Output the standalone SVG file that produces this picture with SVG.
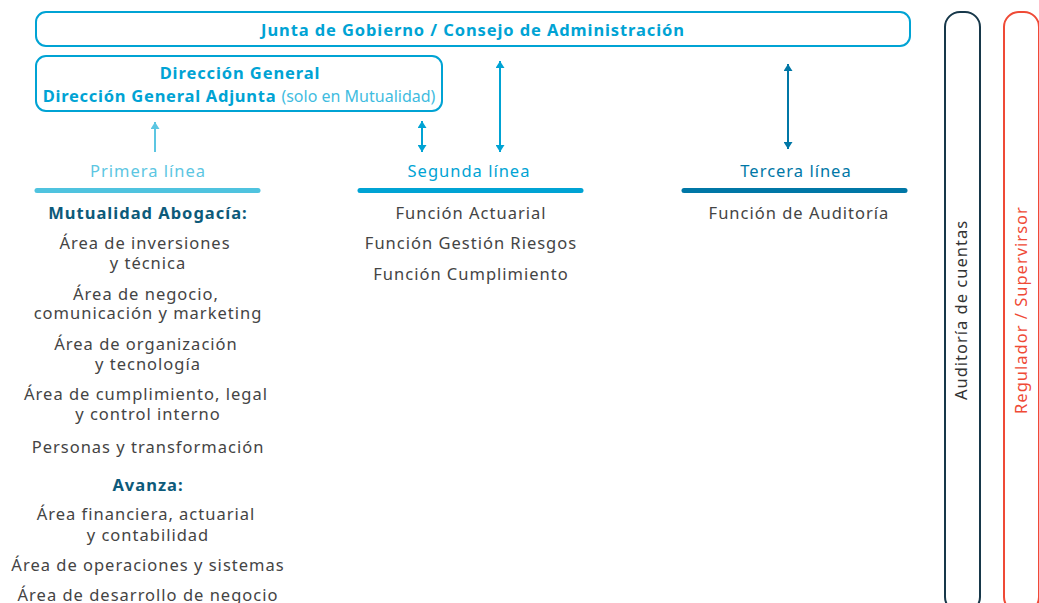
<svg xmlns="http://www.w3.org/2000/svg" width="1039" height="603" viewBox="0 0 1039 603">
<defs>
<style>
text{font-family:"Noto Sans","Open Sans","Liberation Sans",sans-serif;font-size:16.5px;letter-spacing:1px;text-anchor:middle}
.box{fill:#fff;stroke:#00a3d4;stroke-width:2}
.bt{fill:#00a3d4;font-weight:bold;letter-spacing:0.9px}
.lt{fill:#3fbce0;font-weight:normal;letter-spacing:0}
.g{fill:#444}
.h{fill:#0d5a7a;font-weight:bold}
.bar{stroke-width:5;stroke-linecap:round}
</style>
<marker id="a1" viewBox="0 0 7 9" refX="7" refY="4.5" markerWidth="7" markerHeight="9" markerUnits="userSpaceOnUse" orient="auto-start-reverse"><path d="M0,0 L7,4.5 L0,9 Z" fill="#5cc6e2"/></marker>
<marker id="a2" viewBox="0 0 7 9" refX="7" refY="4.5" markerWidth="7" markerHeight="9" markerUnits="userSpaceOnUse" orient="auto-start-reverse"><path d="M0,0 L7,4.5 L0,9 Z" fill="#00a3d4"/></marker>
<marker id="a3" viewBox="0 0 7 9" refX="7" refY="4.5" markerWidth="7" markerHeight="9" markerUnits="userSpaceOnUse" orient="auto-start-reverse"><path d="M0,0 L7,4.5 L0,9 Z" fill="#0077a6"/></marker>
</defs>
<rect width="1039" height="603" fill="#fff"/>
<g id="junta">
<rect class="box" x="36" y="12" width="874" height="34" rx="10"/>
<text class="bt" x="473" y="36">Junta de Gobierno / Consejo de Administración</text>
</g>
<g id="direccion">
<rect class="box" x="36" y="56" width="406" height="55" rx="10"/>
<text class="bt" x="240" y="79">Dirección General</text>
<text class="bt" x="239" y="102" style="letter-spacing:0.75px">Dirección General Adjunta <tspan class="lt" style="font-size:16px">(solo en Mutualidad)</tspan></text>
</g>
<g id="connectors">
<line x1="155" y1="152" x2="155" y2="122" stroke="#5cc6e2" stroke-width="2" marker-end="url(#a1)"/>
<line x1="422" y1="121" x2="422" y2="152" stroke="#00a3d4" stroke-width="2" marker-start="url(#a2)" marker-end="url(#a2)"/>
<line x1="500" y1="61" x2="500" y2="152" stroke="#00a3d4" stroke-width="2" marker-start="url(#a2)" marker-end="url(#a2)"/>
<line x1="788" y1="64" x2="788" y2="149" stroke="#0077a6" stroke-width="2" marker-start="url(#a3)" marker-end="url(#a3)"/>
</g>
<g id="primera">
<text x="148" y="177" fill="#5cc6e2">Primera línea</text>
<line class="bar" x1="37" y1="190.5" x2="258" y2="190.5" stroke="#4fc3df"/>
<text class="h" x="148" y="219">Mutualidad Abogacía:</text>
<text class="g" x="145" y="249">Área de inversiones</text>
<text class="g" x="148" y="269">y técnica</text>
<text class="g" x="146" y="300">Área de negocio,</text>
<text class="g" x="148" y="319">comunicación y marketing</text>
<text class="g" x="146" y="350">Área de organización</text>
<text class="g" x="148" y="370">y tecnología</text>
<text class="g" x="146" y="400">Área de cumplimiento, legal</text>
<text class="g" x="148" y="420">y control interno</text>
<text class="g" x="148" y="453">Personas y transformación</text>
<text class="h" x="148" y="491">Avanza:</text>
<text class="g" x="146" y="520">Área financiera, actuarial</text>
<text class="g" x="148" y="541">y contabilidad</text>
<text class="g" x="148" y="571">Área de operaciones y sistemas</text>
<text class="g" x="148" y="601">Área de desarrollo de negocio</text>
</g>
<g id="segunda">
<text x="469" y="177" fill="#00a3d4">Segunda línea</text>
<line class="bar" x1="360" y1="190.5" x2="581" y2="190.5" stroke="#00a3d4"/>
<text class="g" x="471" y="219">Función Actuarial</text>
<text class="g" x="471" y="249">Función Gestión Riesgos</text>
<text class="g" x="471" y="280">Función Cumplimiento</text>
</g>
<g id="tercera">
<text x="796" y="177" fill="#0077a6">Tercera línea</text>
<line class="bar" x1="684" y1="190.5" x2="905" y2="190.5" stroke="#0077a6"/>
<text class="g" x="799" y="219">Función de Auditoría</text>
</g>
<g id="auditoria">
<rect x="945" y="12" width="35" height="600" rx="15" fill="none" stroke="#17384a" stroke-width="2"/>
<text transform="translate(967,310) rotate(-90)" fill="#333">Auditoría de cuentas</text>
</g>
<g id="regulador">
<rect x="1004" y="12" width="35" height="600" rx="15" fill="none" stroke="#ef4a36" stroke-width="2"/>
<text transform="translate(1027,310) rotate(-90)" fill="#ef4a36">Regulador / Supervirsor</text>
</g>
</svg>
